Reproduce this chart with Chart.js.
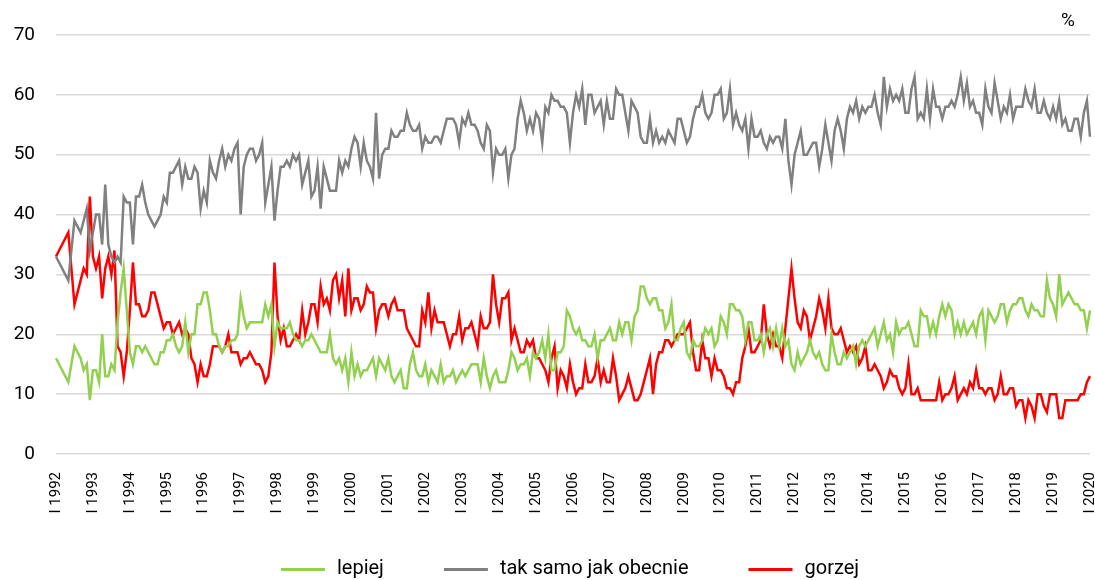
<!DOCTYPE html>
<html lang="pl">
<head>
  <meta charset="UTF-8" />
  <title>Oceny sytuacji 1992-2020</title>
  <script src="https://cdn.jsdelivr.net/npm/chart.js"></script>
  <style>
    body {
      margin: 0;
      background: #fff;
    }
    #wrap {
      width: 1095px;
      height: 580px;
    }
  </style>
</head>
<body>
  <div id="wrap"><canvas id="chart" width="1095" height="580"></canvas></div>

  <script>
    const years = [1992, 1993, 1994, 1995, 1996, 1997, 1998, 1999, 2000, 2001, 2002, 2003, 2004, 2005,
      2006, 2007, 2008, 2009, 2010, 2011, 2012, 2013, 2014, 2015, 2016, 2017, 2018, 2019, 2020];

    // one row per year, January..December; the last row is January 2020
    const lepiej = [
      16, null, null, null, 12, null, 18, null, 16, 14, 15, 9,
      14, 14, 12, 20, 13, 13, 15, 14, 22, 27, 31, 24,
      17, 15, 18, 18, 17, 18, 17, 16, 15, 15, 17, 17,
      19, 19, 20, 18, 17, 18, 22, 17, 20, 20, 25, 25,
      27, 27, 24, 20, 20, 18, 17, 18, 18, 19, 19, 20,
      26, 23, 21, 22, 22, 22, 22, 22, 25, 23, 25, 18,
      22, 21, 21, 21, 22, 20, 19, 19, 18, 19, 19, 20,
      19, 18, 17, 17, 17, 20, 16, 15, 16, 14, 16, 12,
      17, 13, 15, 13, 14, 14, 15, 16, 13, 16, 15, 14,
      16, 13, 12, 13, 14, 11, 11, 15, 17, 14, 13, 13,
      15, 12, 14, 13, 12, 15, 12, 13, 13, 14, 12, 13,
      14, 13, 14, 15, 15, 15, 12, 16, 13, 11, 13, 14,
      12, 12, 12, 14, 17, 16, 14, 15, 15, 16, 13, 17,
      16, 17, 19, 16, 20, 14, 14, 17, 17, 18, 24, 23,
      21, 20, 21, 19, 19, 18, 18, 20, 16, 19, 19, 20,
      21, 19, 19, 22, 20, 22, 22, 19, 23, 24, 28, 28,
      26, 25, 26, 26, 24, 24, 21, 22, 25, 19, 19, 21,
      22, 17, 16, 19, 18, 18, 19, 21, 20, 21, 18, 19,
      23, 22, 20, 25, 25, 24, 24, 23, 19, 22, 22, 19,
      19, 20, 17, 20, 21, 18, 21, 18, 21, 18, 19, 15,
      14, 17, 15, 16, 17, 19, 17, 16, 17, 15, 14, 14,
      20, 17, 15, 15, 17, 16, 17, 18, 15, 18, 19, 18,
      19, 20, 21, 18, 20, 22, 19, 20, 17, 22, 20, 21,
      21, 22, 20, 18, 18, 24, 23, 23, 20, 22, 20, 23,
      25, 23, 25, 24, 20, 22, 20, 22, 20, 21, 22, 20,
      23, 24, 19, 24, 23, 22, 23, 25, 25, 22, 24, 25,
      25, 26, 26, 24, 23, 25, 24, 24, 23, 23, 29, 26,
      25, 23, 30, 25, 26, 27, 26, 25, 25, 24, 24, 21,
      24
    ];

    const takSamo = [
      33, null, null, null, 29, null, 39, null, 37, 39, 41, 34,
      null, 40, 40, 35, 45, 35, 33, 32, 33, 32, 43, 42,
      42, 35, 43, 43, 45, 42, 40, 39, 38, 39, 40, 43,
      42, 47, 47, 48, 49, 45, 48, 46, 46, 48, 47, 41,
      44, 42, 49, 47, 46, 49, 51, 48, 50, 49, 51, 52,
      40, 48, 50, 51, 51, 49, 50, 52, 42, 45, 48, 39,
      44, 48, 48, 49, 48, 50, 49, 50, 45, 47, 49, 43,
      44, 48, 41, 48, 46, 44, 44, 44, 49, 47, 49, 48,
      51, 53, 52, 48, 52, 49, 48, 46, 57, 46, 50, 51,
      51, 54, 53, 53, 54, 54, 57, 55, 54, 54, 55, 51,
      53, 52, 52, 53, 53, 52, 54, 56, 56, 56, 55, 52,
      56, 55, 57, 55, 55, 54, 52, 51, 55, 54, 47, 51,
      50, 50, 51, 46, 50, 51, 56, 59, 57, 54, 56, 54,
      57, 56, 52, 58, 57, 60, 59, 59, 58, 58, 57, 52,
      57, 60, 58, 61, 55, 60, 60, 57, 58, 59, 55, 59,
      56, 56, 61, 60, 60, 57, 54, 59, 58, 57, 53, 52,
      52, 56, 52, 54, 52, 53, 52, 54, 53, 52, 56, 56,
      54, 52, 53, 56, 58, 58, 60, 57, 56, 57, 60, 60,
      61, 56, 57, 61, 55, 57, 55, 54, 56, 51, 56, 53,
      53, 54, 52, 51, 53, 52, 53, 53, 51, 56, 49, 45,
      50, 52, 54, 50, 50, 51, 52, 52, 48, 51, 55, 52,
      49, 54, 56, 54, 51, 56, 58, 57, 59, 56, 58, 57,
      58, 58, 60, 57, 55, 63, 58, 61, 59, 60, 59, 61,
      57, 57, 61, 63, 56, 57, 56, 61, 56, 61, 58, 58,
      56, 58, 58, 59, 58, 60, 63, 59, 62, 58, 59, 57,
      57, 55, 61, 58, 57, 62, 59, 56, 58, 57, 60, 56,
      58, 58, 58, 61, 59, 58, 61, 57, 57, 59, 57, 56,
      58, 56, 59, 55, 56, 54, 54, 56, 56, 53, 57, 59,
      53
    ];

    const gorzej = [
      33, null, null, null, 37, null, 25, null, 29, 31, 30, 43,
      33, 31, 33, 26, 31, 33, 30, 34, 18, 17, 13, 17,
      24, 32, 25, 25, 23, 23, 24, 27, 27, 25, 23, 21,
      22, 22, 20, 21, 22, 20, 21, 20, 16, 15, 12, 15,
      13, 13, 15, 18, 18, 18, 17, 18, 20, 17, 17, 17,
      15, 16, 16, 17, 16, 15, 15, 14, 12, 13, 17, 32,
      23, 19, 21, 18, 18, 19, 20, 19, 24, 20, 22, 25,
      25, 22, 28, 25, 26, 24, 29, 30, 26, 29, 23, 31,
      24, 26, 26, 24, 25, 28, 27, 27, 21, 24, 25, 25,
      23, 25, 26, 24, 24, 24, 21, 20, 19, 18, 18, 24,
      22, 27, 21, 24, 22, 22, 22, 20, 18, 20, 20, 23,
      19, 21, 21, 22, 20, 18, 23, 21, 21, 22, 30, 25,
      22, 26, 26, 27, 19, 21, 19, 17, 17, 19, 18, 19,
      16, 16, 15, 14, 12, 16, 18, 11, 14, 13, 11, 15,
      12, 10, 11, 11, 15, 12, 12, 13, 16, 12, 14, 12,
      12, 16, 13, 9, 10, 11, 13, 11, 9, 9, 10, 12,
      14, 16, 10, 15, 17, 17, 19, 19, 18, 19, 20, 20,
      20, 21, 22, 17, 14, 14, 19, 16, 16, 13, 16, 14,
      14, 13, 11, 11, 10, 12, 12, 16, 18, 21, 17, 17,
      18, 19, 25, 20, 18, 20, 18, 18, 16, 21, 26, 31,
      26, 22, 21, 24, 23, 19, 21, 23, 26, 24, 21, 26,
      21, 20, 20, 21, 19, 17, 18, 17, 18, 15, 16, 18,
      14, 14, 15, 14, 13, 11, 12, 14, 13, 13, 11, 10,
      11, 15, 10, 10, 11, 9, 9, 9, 9, 9, 9, 12,
      9, 10, 10, 11, 13, 9, 10, 11, 10, 12, 11, 14,
      11, 11, 10, 11, 11, 9, 10, 13, 10, 10, 11, 11,
      8, 9, 9, 6, 9, 8, 6, 10, 10, 8, 7, 10,
      10, 10, 6, 6, 9, 9, 9, 9, 9, 10, 10, 12,
      13
    ];

    const seriesNames = ['lepiej', 'tak samo jak obecnie', 'gorzej'];
    const seriesColors = ['#92d050', '#808080', '#ff0000'];

    // monthly category labels, January 1992 .. January 2020
    const months = [];
    years.forEach(y => {
      for (let m = 1; m <= 12; m++) {
        if (y === 2020 && m > 1) break;
        months.push(y + '-' + String(m).padStart(2, '0'));
      }
    });

    // legend swatch: blank space on the left, then a short line
    function swatch(color) {
      const c = document.createElement('canvas');
      c.width = 96;
      c.height = 3;
      const g = c.getContext('2d');
      g.fillStyle = color;
      g.fillRect(50, 0, 44, 3);
      return c;
    }
    const swatches = seriesColors.map(swatch);

    const percentLabel = {
      id: 'percentLabel',
      afterDraw(chart) {
        const { ctx, chartArea } = chart;
        ctx.save();
        ctx.font = '19px Roboto';
        ctx.fillStyle = '#000';
        ctx.textAlign = 'center';
        ctx.textBaseline = 'middle';
        ctx.fillText('%', chartArea.right - 22, chartArea.top - 14);
        ctx.restore();
      }
    };

    Chart.defaults.font.family = 'Roboto, sans-serif';
    Chart.defaults.color = '#000';

    const ctx = document.getElementById('chart').getContext('2d');
    new Chart(ctx, {
      type: 'line',
      data: {
        labels: months,
        datasets: [lepiej, takSamo, gorzej].map((d, i) => ({
          label: seriesNames[i],
          data: d,
          borderColor: seriesColors[i],
          backgroundColor: seriesColors[i],
          borderWidth: 2.5,
          pointRadius: 0,
          tension: 0,
          spanGaps: true
        }))
      },
      options: {
        responsive: false,
        animation: false,
        layout: { padding: { top: 35, right: 5, bottom: -9, left: 0 } },
        plugins: {
          tooltip: { enabled: false },
          legend: {
            position: 'bottom',
            labels: {
              font: { size: 20 },
              color: '#000',
              padding: 10,
              usePointStyle: true,
              pointStyleWidth: 96,
              generateLabels: chart => chart.data.datasets.map((ds, i) => ({
                text: ds.label,
                pointStyle: swatches[i],
                fillStyle: seriesColors[i],
                strokeStyle: seriesColors[i],
                lineWidth: 0,
                hidden: false,
                datasetIndex: i
              }))
            }
          }
        },
        scales: {
          x: {
            offset: false,
            grid: { display: false },
            border: { display: false },
            ticks: {
              autoSkip: false,
              minRotation: 90,
              maxRotation: 90,
              padding: 10,
              font: { size: 15 },
              callback: (value, index) => index % 12 === 0 ? 'I ' + years[index / 12] : ''
            },
            afterFit: scale => {
              scale.height = 95;
              scale.paddingLeft = 0;
              scale.paddingRight = 0;
            }
          },
          y: {
            min: 0,
            max: 70,
            grid: { color: '#d9d9d9', lineWidth: 1.5, drawTicks: false },
            border: { display: false },
            ticks: {
              stepSize: 10,
              padding: 21,
              font: { size: 19 }
            },
            afterFit: scale => { scale.width = 56; }
          }
        }
      },
      plugins: [percentLabel]
    });
  </script>
</body>
</html>
